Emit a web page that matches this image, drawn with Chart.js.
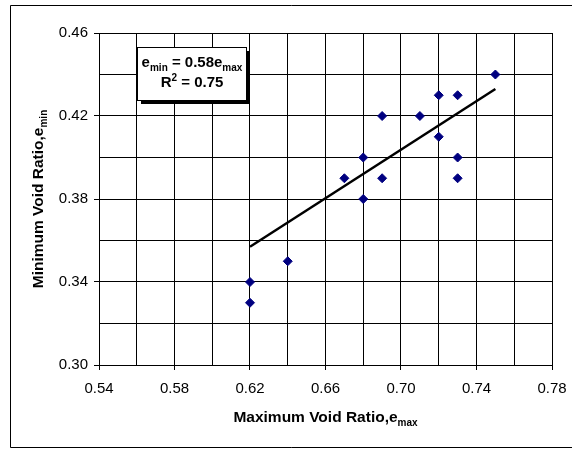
<!DOCTYPE html>
<html>
<head>
<meta charset="utf-8">
<script src="https://cdn.jsdelivr.net/npm/chart.js@4/dist/chart.umd.min.js"></script>
<style>
  html, body { margin: 0; padding: 0; background: #fff; }
  #wrap { position: relative; width: 572px; height: 449px; }
</style>
</head>
<body>
<div id="wrap"><canvas id="c"></canvas></div>
<script>
// measured points (e_max, e_min)
const eMax = [0.75, 0.72, 0.73, 0.69, 0.71, 0.72, 0.68, 0.73, 0.67, 0.69, 0.73, 0.68, 0.62, 0.62, 0.64];
const eMin = [0.44, 0.43, 0.43, 0.42, 0.42, 0.41, 0.40, 0.40, 0.39, 0.39, 0.39, 0.38, 0.34, 0.33, 0.35];

// trend line ends, e_min = 0.58 e_max
const trendX = [0.62, 0.75];
const trendY = [0.357, 0.433];

const X_MIN = 0.54, X_MAX = 0.78, Y_MIN = 0.30, Y_MAX = 0.46, STEP = 0.02;

const FONT = '"Liberation Sans", Arial, sans-serif';
const NAVY = '#000080';

Chart.defaults.font.family = FONT;
Chart.defaults.color = '#000';

const labeled = v => Math.round(v * 100) % 4 === 2;

// draw a run of text pieces [text, size, dy] centered on cx
function richText(ctx, parts, cx, y) {
  let w = 0;
  parts.forEach(p => { ctx.font = 'bold ' + p[1] + 'px ' + FONT; w += ctx.measureText(p[0]).width; });
  let x = cx - w / 2;
  parts.forEach(p => {
    ctx.font = 'bold ' + p[1] + 'px ' + FONT;
    ctx.fillText(p[0], x, y + p[2]);
    x += ctx.measureText(p[0]).width;
  });
}

const extras = {
  id: 'extras',
  afterDraw(chart) {
    const ctx = chart.ctx;
    const a = chart.chartArea;
    ctx.save();
    ctx.fillStyle = '#000';
    ctx.textAlign = 'left';
    ctx.textBaseline = 'alphabetic';

    // outer frame (right side runs off the picture)
    ctx.strokeStyle = '#000';
    ctx.lineWidth = 1;
    ctx.beginPath();
    ctx.moveTo(572, 5.5); ctx.lineTo(10.5, 5.5); ctx.lineTo(10.5, 447.5); ctx.lineTo(572, 447.5);
    ctx.stroke();

    // axis titles
    richText(ctx, [['Maximum Void Ratio,e', 15.5, 0], ['max', 10, 4]], (a.left + a.right) / 2, 422);
    ctx.save();
    ctx.translate(43, (a.top + a.bottom) / 2);
    ctx.rotate(-Math.PI / 2);
    richText(ctx, [['Minimum Void Ratio,e', 15.5, 0], ['min', 10, 4]], 0, 0);
    ctx.restore();

    // equation box with shadow
    ctx.fillStyle = '#000';
    ctx.fillRect(141, 51, 109, 53);
    ctx.fillStyle = '#fff';
    ctx.fillRect(137, 47, 109, 53);
    ctx.strokeRect(137.5, 47.5, 109, 53);
    ctx.fillStyle = '#000';
    richText(ctx, [['e', 15, 0], ['min', 10, 4], [' = 0.58e', 15, 0], ['max', 10, 4]], 192, 67);
    richText(ctx, [['R', 15, 0], ['2', 10, -6], [' = 0.75', 15, 0]], 192, 87);
    ctx.restore();
  }
};

new Chart(document.getElementById('c'), {
  type: 'scatter',
  data: {
    datasets: [
      {
        label: 'data',
        data: eMax.map((x, i) => ({ x, y: eMin[i] })),
        pointStyle: 'rectRot',
        pointRadius: 4.5,
        pointBackgroundColor: NAVY,
        pointBorderColor: NAVY,
        pointBorderWidth: 1,
        order: 1
      },
      {
        label: 'trend',
        type: 'line',
        data: trendX.map((x, i) => ({ x, y: trendY[i] })),
        borderColor: '#000',
        borderWidth: 2.5,
        pointRadius: 0,
        fill: false,
        order: 2
      }
    ]
  },
  options: {
    responsive: true, maintainAspectRatio: false, animation: false,
    layout: { padding: { left: 0, right: 20, top: 33, bottom: 0 } },
    plugins: { legend: { display: false }, tooltip: { enabled: false } },
    scales: {
      x: {
        type: 'linear', min: X_MIN, max: X_MAX,
        afterFit: s => { s.height = 84; s.paddingLeft = 0; s.paddingRight = 0; },
        border: { color: '#000', width: 1 },
        grid: { color: '#000', lineWidth: 1, tickLength: 5, tickColor: c => labeled(c.tick.value) ? '#000' : 'rgba(0,0,0,0)' },
        ticks: { stepSize: STEP, color: '#000', font: { size: 15 }, padding: 10, maxRotation: 0, autoSkip: false,
          callback: v => labeled(v) ? v.toFixed(2) : '' }
      },
      y: {
        type: 'linear', min: Y_MIN, max: Y_MAX,
        afterFit: s => { s.width = 99; s.paddingTop = 0; s.paddingBottom = 0; },
        border: { color: '#000', width: 1 },
        grid: { color: '#000', lineWidth: 1, tickLength: 5, tickColor: c => labeled(c.tick.value) ? '#000' : 'rgba(0,0,0,0)' },
        ticks: { stepSize: STEP, color: '#000', font: { size: 15 }, padding: 6, autoSkip: false,
          callback: v => labeled(v) ? v.toFixed(2) : '' }
      }
    }
  },
  plugins: [extras]
});
</script>
</body>
</html>
